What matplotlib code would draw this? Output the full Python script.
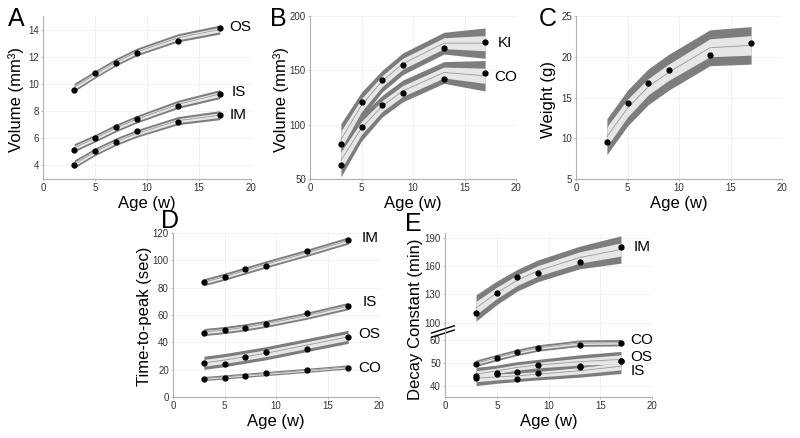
import matplotlib
matplotlib.use('Agg')
import matplotlib.pyplot as plt
import numpy as np

plt.rcParams['font.family'] = ['Liberation Sans', 'DejaVu Sans']

weeks = [3, 5, 7, 9, 13, 17]

# A: organ volumes (mm^3)
a_os_pts = [9.57, 10.77, 11.53, 12.31, 13.17, 14.1]
a_os_fit = [9.75, 10.7, 11.6, 12.35, 13.4, 14.0]
a_is_pts = [5.17, 6.05, 6.84, 7.45, 8.4, 9.28]
a_is_fit = [5.3, 6.0, 6.75, 7.4, 8.5, 9.25]
a_im_pts = [4.0, 5.08, 5.69, 6.52, 7.23, 7.74]
a_im_fit = [4.1, 5.0, 5.75, 6.35, 7.3, 7.7]
a_ci = [0.15, 0.14, 0.14, 0.14, 0.15, 0.17]
a_pi = [0.3, 0.28, 0.28, 0.28, 0.3, 0.33]

# B: kidney volumes
b_ki_pts = [82.4, 120.4, 141.5, 155.3, 170.6, 176.1]
b_ki_fit = [86, 118, 140, 156, 175, 175]
b_co_pts = [62.9, 97.7, 118.3, 129.3, 142.1, 147.3]
b_co_fit = [67, 97, 117, 131, 148, 145]
b_ci = [8, 6, 5, 5, 5, 7]
b_pi = [15, 12, 10, 10, 10, 14]

# C: body weight (g)
c_pts = [9.49, 14.3, 16.76, 18.35, 20.27, 21.73]
c_fit = [10.2, 13.7, 16.3, 18.1, 21.1, 21.4]
c_ci = [1.2, 1.1, 1.0, 1.0, 1.1, 1.2]
c_pi = [2.2, 2.2, 2.2, 2.2, 2.2, 2.3]

# D: time-to-peak (sec)
d_im_pts = [83.8, 87.7, 93.6, 95.9, 106.5, 114.6]
d_im_fit = [84, 88, 92.5, 97, 105.5, 114.5]
d_is_pts = [47.1, 49.3, 50.8, 53.5, 61.4, 66.5]
d_is_fit = [47.5, 49, 51, 53.5, 59.5, 66.5]
d_os_pts = [24.9, 24.4, 29.3, 33.0, 35.2, 44.1]
d_os_fit = [25, 27, 29.5, 32, 38, 44]
d_co_pts = [13.1, 13.8, 15.3, 17.5, 19.7, 21.2]
d_co_fit = [13.5, 14.7, 15.9, 17.1, 19.5, 22]
d_ci = {'IM': 1.2, 'IS': 1.2, 'OS': 2.5, 'CO': 0.6}
d_pi = {'IM': 2.6, 'IS': 2.6, 'OS': 4.8, 'CO': 1.5}

# E: decay constant (min)
e_im_pts = [110.1, 131.1, 148.8, 152.4, 164.7, 180.6]
e_im_fit = [115.5, 131.5, 145, 155, 169, 177.5]
e_im_ci = [7, 6, 5.5, 5.5, 6, 7]
e_im_pi = [14, 12.5, 11.5, 11.5, 12, 14.5]
e_co_pts = [49.5, 52.0, 54.6, 56.5, 57.8, 58.5]
e_co_fit = [49.8, 52.3, 54.6, 56.5, 58.6, 58.8]
e_co_ci = [0.6] * 6
e_co_pi = [1.4] * 6
e_os_pts = [44.0, 45.5, 46.0, 49.0, 48.5, 50.9]
e_os_fit = [45.0, 46.5, 48.0, 49.0, 50.5, 51.5]
e_os_ci = [1.5, 1.2, 1.2, 1.2, 1.5, 2.0]
e_os_pi = [3.0, 2.5, 2.5, 2.5, 3.0, 3.5]
e_is_pts = [43.2, 45.3, 42.8, 45.7, 48.0, 50.6]
e_is_fit = [43.3, 43.8, 44.3, 45.0, 46.5, 48.5]
e_is_ci = [1.6, 1.3, 1.2, 1.2, 1.4, 1.6]
e_is_pi = [3.3, 2.8, 2.5, 2.5, 2.8, 3.2]

DARK = '#7d7d7d'
LIGHT = '#e6e6e6'
MID = '#9a9a9a'
W, H = 800.0, 438.0


def px_axes(fig, left, top, right, bottom):
    return fig.add_axes([left / W, 1 - bottom / H, (right - left) / W, (bottom - top) / H])


def style(ax, ylim, yticks, xlabel=True):
    ax.set_xlim(0, 20)
    ax.set_ylim(*ylim)
    ax.set_xticks([0, 5, 10, 15, 20])
    ax.set_yticks(yticks)
    ax.grid(True, color='#f0f0f0', linewidth=0.6)
    ax.set_axisbelow(True)
    for s in ['top', 'right']:
        ax.spines[s].set_visible(False)
    for s in ['left', 'bottom']:
        ax.spines[s].set_color('#b0b0b0')
        ax.spines[s].set_linewidth(0.8)
    ax.tick_params(labelsize=7, colors='#b0b0b0', labelcolor='#333333',
                   length=1.5, width=0.6, pad=1.5)
    if xlabel:
        ax.set_xlabel('Age (w)', fontsize=12, labelpad=2)


def ylabel(fig, text, xpix, ypix):
    fig.text(xpix / W, 1 - ypix / H, text, rotation=90, fontsize=12,
             ha='center', va='center')


def draw(ax, series):
    # series: list of (pts, fit, ci, pi)
    x = np.array(weeks)
    for pts, fit, ci, pi in series:
        f = np.array(fit)
        ax.fill_between(x, f - np.array(pi), f + np.array(pi), color=DARK, lw=0)
    for pts, fit, ci, pi in series:
        f = np.array(fit)
        ax.fill_between(x, f - np.array(ci), f + np.array(ci), color=LIGHT, lw=0)
    for pts, fit, ci, pi in series:
        ax.plot(x, fit, color=MID, lw=0.6)
        ax.plot(x, pts, 'o', color='black', ms=3.5)


def label(ax, x, y, s):
    ax.text(x, y, s, fontsize=11, ha='left', va='center')


fig = plt.figure(figsize=(8, 4.38), dpi=100)

# A
ax = px_axes(fig, 43, 16, 251, 179)
draw(ax, [(a_os_pts, a_os_fit, a_ci, a_pi),
          (a_is_pts, a_is_fit, a_ci, a_pi),
          (a_im_pts, a_im_fit, a_ci, a_pi)])
style(ax, (3, 15), [4, 6, 8, 10, 12, 14])
ylabel(fig, 'Volume (mm³)', 16, 100)
label(ax, 17.9, 14.2, 'OS')
label(ax, 18.1, 9.4, 'IS')
label(ax, 17.9, 7.7, 'IM')

# B
ax = px_axes(fig, 310, 16, 516, 179)
draw(ax, [(b_ki_pts, b_ki_fit, b_ci, b_pi),
          (b_co_pts, b_co_fit, b_ci, b_pi)])
style(ax, (50, 200), [50, 100, 150, 200])
ylabel(fig, 'Volume (mm³)', 281, 100)
label(ax, 18.2, 175, 'KI')
label(ax, 17.9, 144, 'CO')

# C
ax = px_axes(fig, 576, 16, 782, 179)
draw(ax, [(c_pts, c_fit, c_ci, c_pi)])
style(ax, (5, 25), [5, 10, 15, 20, 25])
ylabel(fig, 'Weight (g)', 548, 100)

# D
ax = px_axes(fig, 173, 233, 379, 397)
draw(ax, [(d_im_pts, d_im_fit, [d_ci['IM']] * 6, [d_pi['IM']] * 6),
          (d_is_pts, d_is_fit, [d_ci['IS']] * 6, [d_pi['IS']] * 6),
          (d_os_pts, d_os_fit, [d_ci['OS']] * 6, [d_pi['OS']] * 6),
          (d_co_pts, d_co_fit, [d_ci['CO']] * 6, [d_pi['CO']] * 6)])
style(ax, (0, 120), [0, 20, 40, 60, 80, 100, 120])
ylabel(fig, 'Time-to-peak (sec)', 144, 316)
label(ax, 18.3, 116, 'IM')
label(ax, 18.4, 69.5, 'IS')
label(ax, 18.0, 46, 'OS')
label(ax, 18.0, 21.5, 'CO')

# E (broken y axis)
ax_top = px_axes(fig, 445, 233, 652, 332)
ax_bot = px_axes(fig, 445, 332, 652, 397)
draw(ax_top, [(e_im_pts, e_im_fit, e_im_ci, e_im_pi)])
draw(ax_bot, [(e_co_pts, e_co_fit, e_co_ci, e_co_pi),
              (e_os_pts, e_os_fit, e_os_ci, e_os_pi),
              (e_is_pts, e_is_fit, e_is_ci, e_is_pi)])
style(ax_top, (90, 195), [100, 130, 160, 190], xlabel=False)
style(ax_bot, (35, 63.5), [40, 50, 60])
ax_top.spines['bottom'].set_visible(False)
ax_top.tick_params(axis='x', bottom=False, labelbottom=False)
ax_top.set_xticks([5, 10, 15])
label(ax_top, 18.2, 180, 'IM')
label(ax_bot, 17.9, 60.1, 'CO')
label(ax_bot, 17.9, 52.4, 'OS')
label(ax_bot, 17.9, 46.6, 'IS')
for dy in (0.0, 0.065):
    ax_bot.plot([-0.065, 0.045], [0.92 + dy, 1.03 + dy], transform=ax_bot.transAxes,
                color='black', lw=1.0, clip_on=False)
ylabel(fig, 'Decay Constant (min)', 415, 319)

# panel letters
for s, x, y in [('A', 8, 7), ('B', 270, 7), ('C', 539, 7), ('D', 161, 209), ('E', 405, 212)]:
    fig.text(x / W, 1 - y / H, s, fontsize=18, ha='left', va='top')

fig.savefig('out.png', dpi=100)
